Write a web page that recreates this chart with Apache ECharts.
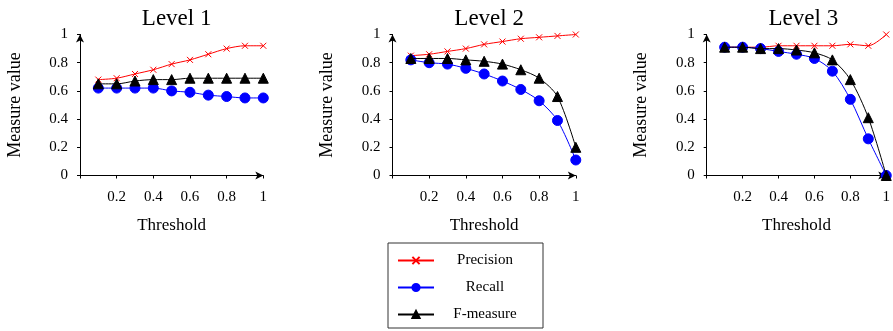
<!DOCTYPE html>
<html>
<head>
<meta charset="utf-8">
<script src="https://cdn.jsdelivr.net/npm/echarts@6/dist/echarts.min.js"></script>
<style>
html,body{margin:0;padding:0;background:#fff;}
#chart{width:893px;height:331px;}
</style>
</head>
<body>
<div id="chart"></div>
<script>
// ---- data ----
const thresholds = [0.1, 0.2, 0.3, 0.4, 0.5, 0.6, 0.7, 0.8, 0.9, 1.0];
const panelTitles = ['Level 1', 'Level 2', 'Level 3'];
const seriesNames = ['Precision', 'Recall', 'F-measure'];
const xTicks = [0.2, 0.4, 0.6, 0.8, 1];
const yTicks = [0, 0.2, 0.4, 0.6, 0.8, 1];

const level1Precision = [0.68, 0.69, 0.72, 0.75, 0.79, 0.82, 0.86, 0.90, 0.92, 0.92];
const level1Recall    = [0.62, 0.62, 0.62, 0.62, 0.60, 0.59, 0.57, 0.56, 0.55, 0.55];
const level1FMeasure  = [0.65, 0.65, 0.67, 0.68, 0.68, 0.69, 0.69, 0.69, 0.69, 0.69];

const level2Precision = [0.85, 0.86, 0.88, 0.90, 0.93, 0.95, 0.97, 0.98, 0.99, 1.00];
const level2Recall    = [0.82, 0.80, 0.79, 0.76, 0.72, 0.67, 0.61, 0.53, 0.39, 0.11];
const level2FMeasure  = [0.83, 0.83, 0.83, 0.82, 0.81, 0.79, 0.75, 0.69, 0.56, 0.20];

const level3Precision = [0.91, 0.91, 0.91, 0.92, 0.92, 0.92, 0.92, 0.93, 0.92, 1.00];
const level3Recall    = [0.91, 0.91, 0.90, 0.88, 0.86, 0.83, 0.74, 0.54, 0.26, 0.00];
const level3FMeasure  = [0.91, 0.91, 0.90, 0.90, 0.89, 0.87, 0.82, 0.68, 0.41, 0.00];

const panels = [
  [level1Precision, level1Recall, level1FMeasure],
  [level2Precision, level2Recall, level2FMeasure],
  [level3Precision, level3Recall, level3FMeasure]
];

// ---- styling ----
const FONT = '"Liberation Serif", "DejaVu Serif", serif';
const gridLefts = [80, 392.5, 706.7];
const gridWidth = 183.3;
const gridTop = 34.5;
const gridHeight = 141;

const styles = [
  { color: '#ff0000', symbol: 'path://M0,0L10,10M0,10L10,0', size: 6 },
  { color: '#0000ff', symbol: 'circle', size: 10 },
  { color: '#000000', symbol: 'triangle', size: 10 }
];

const grids = [], xAxes = [], yAxes = [], titles = [], series = [];
panels.forEach((vals, p) => {
  grids.push({ left: gridLefts[p], top: gridTop, width: gridWidth, height: gridHeight, containLabel: false });
  titles.push({
    text: panelTitles[p],
    left: gridLefts[p] + gridWidth / 2,
    top: 2,
    textAlign: 'center',
    textStyle: { fontFamily: FONT, fontSize: 23, fontWeight: 'normal', color: '#000' }
  });
  xAxes.push({
    type: 'value', gridIndex: p, min: 0, max: 1, interval: 0.2,
    name: 'Threshold', nameLocation: 'middle', nameGap: 42,
    nameTextStyle: { fontFamily: FONT, fontSize: 17, color: '#000' },
    axisLine: { show: true, lineStyle: { color: '#000', width: 1 }, symbol: ['none', 'arrow'], symbolSize: [6, 8] },
    axisTick: { show: true, length: 3, lineStyle: { color: '#000' } },
    axisLabel: {
      fontFamily: FONT, fontSize: 15, color: '#000', margin: 14,
      formatter: v => (xTicks.indexOf(Math.round(v * 10) / 10) >= 0 ? String(Math.round(v * 10) / 10) : '')
    },
    splitLine: { show: false }
  });
  yAxes.push({
    type: 'value', gridIndex: p, min: 0, max: 1, interval: 0.2,
    name: 'Measure value', nameLocation: 'middle', nameGap: 56, nameRotate: 90,
    nameTextStyle: { fontFamily: FONT, fontSize: 18, color: '#000' },
    axisLine: { show: true, lineStyle: { color: '#000', width: 1 }, symbol: ['none', 'arrow'], symbolSize: [6, 8] },
    axisTick: { show: true, length: 3, lineStyle: { color: '#000' } },
    axisLabel: {
      fontFamily: FONT, fontSize: 15, color: '#000', margin: 12,
      formatter: v => (yTicks.indexOf(Math.round(v * 10) / 10) >= 0 ? String(Math.round(v * 10) / 10) : '')
    },
    splitLine: { show: false }
  });
  vals.forEach((arr, s) => {
    const st = styles[s];
    series.push({
      name: seriesNames[s],
      type: 'line',
      xAxisIndex: p, yAxisIndex: p,
      data: thresholds.map((t, i) => [t, arr[i]]),
      smooth: 0.3,
      symbol: st.symbol,
      symbolSize: st.size,
      showAllSymbol: true,
      lineStyle: { color: st.color, width: 1 },
      itemStyle: { color: st.color, borderColor: st.color, borderWidth: 1 },
      emphasis: { disabled: true },
      animation: false,
      z: 2 + s
    });
  });
});

const chart = echarts.init(document.getElementById('chart'), null, { renderer: 'canvas' });
chart.setOption({
  animation: false,
  backgroundColor: '#fff',
  title: titles,
  grid: grids,
  xAxis: xAxes,
  yAxis: yAxes,
  legend: {
    data: seriesNames,
    orient: 'vertical',
    left: 388,
    top: 243,
    itemWidth: 36,
    itemHeight: 9,
    itemGap: 12,
    padding: [10, 12, 6, 9],
    borderColor: '#333',
    borderWidth: 1,
    selectedMode: false,
    formatter: name => '{t|' + name + '}',
    textStyle: {
      fontFamily: FONT, fontSize: 15, color: '#000',
      rich: { t: { width: 92, align: 'center', fontFamily: FONT, fontSize: 15, lineHeight: 14, color: '#000' } }
    }
  },
  series: series
});
</script>
</body>
</html>
